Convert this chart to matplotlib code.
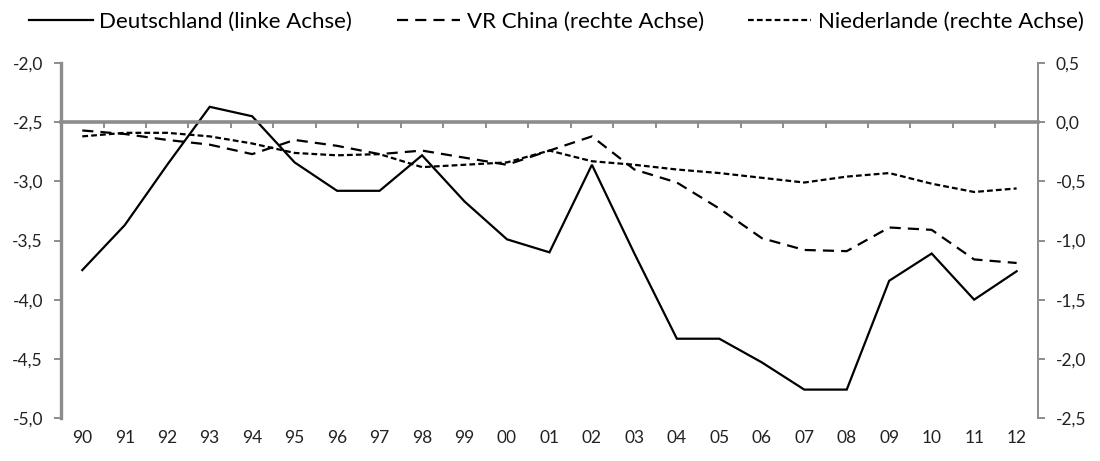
import numpy as np
import matplotlib.pyplot as plt
from matplotlib.lines import Line2D
from matplotlib.ticker import FuncFormatter, FixedLocator

plt.rcParams["font.family"] = ["Lato", "DejaVu Sans"]

years = ["90", "91", "92", "93", "94", "95", "96", "97", "98", "99", "00", "01",
         "02", "03", "04", "05", "06", "07", "08", "09", "10", "11", "12"]

# linke Achse
deutschland = [-3.75, -3.37, -2.86, -2.37, -2.45, -2.84, -3.08, -3.08, -2.78, -3.17,
               -3.49, -3.60, -2.86, -3.61, -4.33, -4.33, -4.53, -4.76, -4.76, -3.84,
               -3.61, -4.00, -3.76]
# rechte Achse
vr_china = [-0.07, -0.10, -0.15, -0.19, -0.27, -0.15, -0.20, -0.27, -0.24, -0.30,
            -0.36, -0.24, -0.12, -0.40, -0.51, -0.73, -0.98, -1.08, -1.09, -0.89,
            -0.91, -1.16, -1.19]
niederlande = [-0.12, -0.09, -0.09, -0.12, -0.18, -0.26, -0.28, -0.27, -0.38, -0.36,
               -0.34, -0.24, -0.33, -0.36, -0.40, -0.43, -0.47, -0.51, -0.46, -0.43,
               -0.52, -0.59, -0.56]

GRAY = "#8c8c8c"
FS = 12.5

x = np.arange(len(years))
comma = FuncFormatter(lambda v, p: f"{v:.1f}".replace(".", ","))

fig = plt.figure(figsize=(11, 4.61), dpi=100)
ax = fig.add_axes([0.0555, 0.0933, 0.888, 0.770])
ax2 = ax.twinx()

ax.plot(x, deutschland, color="black", lw=1.6, solid_joinstyle="miter")
ax2.plot(x, vr_china, color="black", lw=1.6, dashes=(5, 3.2))
ax2.plot(x, niederlande, color="black", lw=1.6, dashes=(2.6, 1.4))

ax.set_xlim(-0.5, len(years) - 0.5)
ax.set_ylim(-5.0, -2.0)
ax2.set_ylim(-2.5, 0.5)
ax.set_yticks(np.arange(-5.0, -1.99, 0.5))
ax2.set_yticks(np.arange(-2.5, 0.51, 0.5))
ax.yaxis.set_major_formatter(comma)
ax2.yaxis.set_major_formatter(comma)

for a in (ax, ax2):
    for s in ("top", "bottom"):
        a.spines[s].set_visible(False)
ax.spines["right"].set_visible(False)
ax2.spines["left"].set_visible(False)
ax.spines["left"].set_color(GRAY)
ax.spines["left"].set_linewidth(2.4)
ax2.spines["right"].set_color(GRAY)
ax2.spines["right"].set_linewidth(1.4)

ax.tick_params(axis="y", colors=GRAY, width=1.4, length=5, labelsize=FS,
               labelcolor="#222222", pad=8)
ax2.tick_params(axis="y", colors=GRAY, width=1.4, length=5, labelsize=FS,
                labelcolor="#222222", pad=8)

ax.set_xticks(x)
ax.set_xticklabels(years)
ax.tick_params(axis="x", length=0, labelsize=FS, labelcolor="#222222", pad=9)

# Nulllinie der rechten Achse mit Teilstrichen
sec = ax2.secondary_xaxis(5.0 / 6.0)
for s in ("top", "bottom"):
    sec.spines[s].set_color(GRAY)
    sec.spines[s].set_linewidth(2.6)
sec.xaxis.set_major_locator(FixedLocator(np.arange(0.5, len(years) - 1, 1.0)))
sec.tick_params(axis="x", which="both", direction="in", length=4, width=1.4,
                colors=GRAY, labeltop=False, labelbottom=False)

handles = [
    Line2D([], [], color="black", lw=1.6),
    Line2D([], [], color="black", lw=1.6, dashes=(5, 3.2)),
    Line2D([], [], color="black", lw=1.6, dashes=(2.6, 1.4)),
]
labels = ["Deutschland (linke Achse)", "VR China (rechte Achse)",
          "Niederlande (rechte Achse)"]
fig.legend(handles, labels, loc="center", bbox_to_anchor=(0.506, 0.952), ncol=3,
           frameon=False, fontsize=16, handlelength=2.85, handletextpad=0.3,
           columnspacing=2.0)

fig.savefig("out.png", dpi=100)
